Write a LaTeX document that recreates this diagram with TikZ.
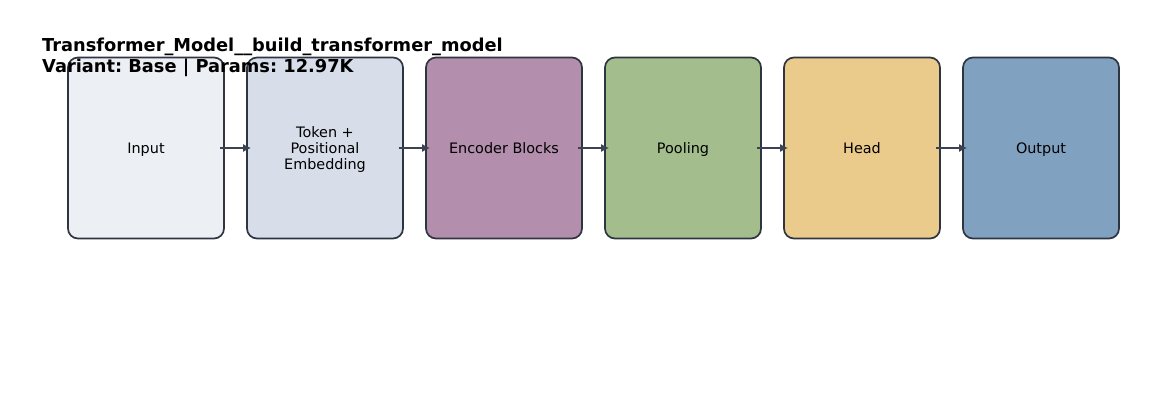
\documentclass[tikz,border=0pt]{standalone}
\usepackage{fontspec}
\setmainfont{DejaVu Sans}
\frenchspacing
\usetikzlibrary{arrows.meta}
\definecolor{edgec}{HTML}{2E3440}
\definecolor{arrc}{HTML}{3B4252}
\definecolor{cA}{HTML}{ECEFF4}
\definecolor{cB}{HTML}{D8DEE9}
\definecolor{cC}{HTML}{B48EAD}
\definecolor{cD}{HTML}{A3BE8C}
\definecolor{cE}{HTML}{EBCB8B}
\definecolor{cF}{HTML}{81A1C1}
\newcommand\lstr{\rule[-3pt]{0pt}{16pt}}
\tikzset{
  blk/.style={draw=edgec, line width=1.7pt, rounded corners=10pt, minimum width=156pt, minimum height=181pt, inner sep=0pt, align=center, font=\fontsize{14.4}{16}\selectfont, text=black},
  conn/.style={draw=arrc, line width=1.4pt, -{Latex[length=8pt,width=8pt]}},
}
\begin{document}
\begin{tikzpicture}[x=1pt,y=-1pt]
\useasboundingbox (0,0) rectangle (1170,416);
\node[blk, fill=cA] (n1) at (146,148) {\lstr Input};
\node[blk, fill=cB] (n2) at (325,148) {\lstr Token +\\\lstr Positional\\\lstr Embedding};
\node[blk, fill=cC] (n3) at (504,148) {\lstr Encoder Blocks};
\node[blk, fill=cD] (n4) at (683,148) {\lstr Pooling};
\node[blk, fill=cE] (n5) at (862,148) {\lstr Head};
\node[blk, fill=cF] (n6) at (1041,148) {\lstr Output};
\foreach \a/\b in {n1/n2,n2/n3,n3/n4,n4/n5,n5/n6}{
  \draw[conn] ([xshift=-5pt]\a.east) -- ([xshift=5pt]\b.west);
}
\node[anchor=base west, inner sep=0pt, align=left, font=\bfseries\fontsize{17.8}{20.3}\selectfont] (title) at (42,72) {Transformer\_Model\_\_build\_transformer\_model\\Variant: Base | Params: 12.97K};
\end{tikzpicture}
\end{document}
